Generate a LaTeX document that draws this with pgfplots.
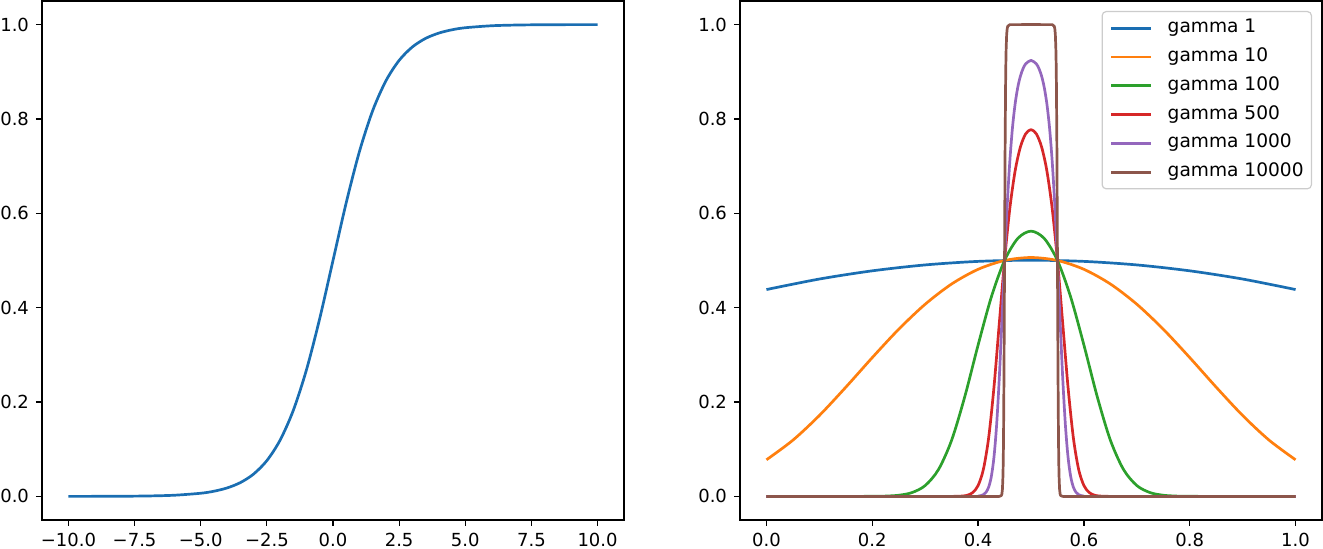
\documentclass[border=0pt]{standalone}
\usepackage{fontspec}
\setmainfont{DejaVu Sans}
\usepackage{pgfplots}
\pgfplotsset{compat=1.18}
\definecolor{c0}{HTML}{1A6EB2}
\definecolor{c1}{HTML}{FF7F0E}
\definecolor{c2}{HTML}{2CA02C}
\definecolor{c3}{HTML}{D62728}
\definecolor{c4}{HTML}{9467BD}
\definecolor{c5}{HTML}{8C564B}
\pgfplotsset{
  base/.style={
    scale only axis, width=291pt, height=259.5pt, anchor=south west,
    axis line style={line width=0.7pt, black},
    tick align=outside, major tick length=3pt,
    tick style={line width=0.6pt, black},
    xtick pos=bottom, ytick pos=left,
    /pgf/number format/assume math mode=true,
    ticklabel style={font=\fontsize{9}{11}\selectfont},
    ymin=-0.05, ymax=1.05,
    ytick={0,0.2,0.4,0.6,0.8,1.0},
    yticklabels={0.0,0.2,0.4,0.6,0.8,1.0},
    every axis plot/.append style={line width=1.35pt, line join=round},
  }
}
\begin{document}
\begin{tikzpicture}
\begin{axis}[base, at={(21pt,14.5pt)},
  xmin=-11, xmax=11,
  xtick={-10,-7.5,-5,-2.5,0,2.5,5,7.5,10},
  xticklabels={−10.0,−7.5,−5.0,−2.5,0.0,2.5,5.0,7.5,10.0}]
\addplot[c0, smooth] coordinates {
(-10,0.0000454) (-9,0.000123) (-8,0.000335) (-7,0.000911) (-6,0.002473)
(-5,0.006693) (-4.5,0.01099) (-4,0.01799) (-3.5,0.02931) (-3,0.04743)
(-2.5,0.07586) (-2,0.1192) (-1.5,0.1824) (-1,0.2689) (-0.5,0.3775)
(0,0.5) (0.5,0.6225) (1,0.7311) (1.5,0.8176) (2,0.8808) (2.5,0.9241)
(3,0.9526) (3.5,0.9707) (4,0.9820) (4.5,0.9890) (5,0.9933) (6,0.99753)
(7,0.99909) (8,0.99966) (9,0.99988) (10,0.99995)};
\end{axis}
\begin{axis}[base, at={(370pt,14.5pt)},
  xmin=-0.05, xmax=1.05,
  xtick={0,0.2,0.4,0.6,0.8,1.0},
  xticklabels={0.0,0.2,0.4,0.6,0.8,1.0},
  legend cell align=left,
  legend image code/.code={\draw[#1] (0pt,0pt) -- (20pt,0pt); \path (27.5pt,0pt);},
  legend style={at={(rel axis cs:1,1)}, anchor=north east, xshift=-5pt, yshift=-5pt,
    draw=black!20, line width=0.6pt, rounded corners=2pt, fill=white, fill opacity=0.8, text opacity=1,
    font=\fontsize{9.3}{11}\selectfont, row sep=5.4pt, inner xsep=3.9pt, inner ysep=3.8pt,
    nodes={inner sep=0pt, text height=6.8pt, text depth=2.2pt}}]
\addplot[c0, smooth] coordinates {
(0,0.4384) (0.1,0.4607) (0.2,0.4781) (0.3,0.4906) (0.4,0.4981) (0.5,0.5006)
(0.6,0.4981) (0.7,0.4906) (0.8,0.4781) (0.9,0.4607) (1,0.4384)};
\addlegendentry{gamma 1}
\addplot[c1, smooth] coordinates {
(0,0.0776) (0.05,0.1192) (0.1,0.1715) (0.15,0.2315) (0.2,0.2942) (0.25,0.3543)
(0.3,0.4073) (0.35,0.4502) (0.4,0.4813) (0.45,0.5) (0.5,0.5063)
(0.55,0.5) (0.6,0.4813) (0.65,0.4502) (0.7,0.4073) (0.75,0.3543) (0.8,0.2942)
(0.85,0.2315) (0.9,0.1715) (0.95,0.1192) (1,0.0776)};
\addlegendentry{gamma 10}
\addplot[c2, smooth] coordinates {
(0,0) (0.1,0.0000001) (0.2,0.00016) (0.225,0.00067) (0.25,0.00247) (0.275,0.00806)
(0.3,0.0230) (0.325,0.0567) (0.35,0.1192) (0.375,0.2121) (0.4,0.3208) (0.425,0.4225)
(0.45,0.5) (0.475,0.5467) (0.5,0.5622) (0.525,0.5467) (0.55,0.5) (0.575,0.4225)
(0.6,0.3208) (0.625,0.2121) (0.65,0.1192) (0.675,0.0567) (0.7,0.0230) (0.725,0.00806)
(0.75,0.00247) (0.775,0.00067) (0.8,0.00016) (0.9,0.0000001) (1,0)};
\addlegendentry{gamma 100}
\addplot[c3, smooth] coordinates {
(0,0) (0.3,0) (0.35,0.00005) (0.37,0.00075) (0.38,0.0026) (0.39,0.0082) (0.40,0.0230)
(0.41,0.0573) (0.42,0.1246) (0.43,0.2315) (0.44,0.3659) (0.45,0.5) (0.46,0.6106)
(0.47,0.6900) (0.48,0.7408) (0.49,0.7685) (0.5,0.7773) (0.51,0.7685) (0.52,0.7408)
(0.53,0.6900) (0.54,0.6106) (0.55,0.5) (0.56,0.3659) (0.57,0.2315) (0.58,0.1246)
(0.59,0.0573) (0.60,0.0230) (0.61,0.0082) (0.62,0.0026) (0.63,0.00075) (0.65,0.00005)
(0.7,0) (1,0)};
\addlegendentry{gamma 500}
\addplot[c4, smooth] coordinates {
(0,0) (0.38,0) (0.40,0.00055) (0.41,0.0037) (0.415,0.0088) (0.42,0.0198) (0.425,0.0421)
(0.43,0.0832) (0.435,0.1512) (0.44,0.2497) (0.445,0.3717) (0.45,0.5) (0.455,0.6166)
(0.46,0.7109) (0.465,0.7816) (0.47,0.8320) (0.475,0.8670) (0.48,0.8909) (0.485,0.9068)
(0.49,0.9168) (0.5,0.9241) (0.51,0.9168) (0.515,0.9068) (0.52,0.8909) (0.525,0.8670)
(0.53,0.8320) (0.535,0.7816) (0.54,0.7109) (0.545,0.6166) (0.55,0.5) (0.555,0.3717)
(0.56,0.2497) (0.565,0.1512) (0.57,0.0832) (0.575,0.0421) (0.58,0.0198) (0.585,0.0088)
(0.59,0.0037) (0.60,0.00055) (0.62,0) (1,0)};
\addlegendentry{gamma 1000}
\addplot[c5] coordinates {
(0,0) (0.44,0) (0.444,0.0017) (0.445,0.0052) (0.446,0.0154) (0.447,0.0435) (0.4475,0.0716)
(0.448,0.1151) (0.449,0.2670) (0.45,0.5) (0.451,0.7291) (0.452,0.8765) (0.4525,0.9196)
(0.453,0.9483) (0.454,0.9790) (0.455,0.9914) (0.456,0.9965) (0.46,0.9999) (0.5,1)
(0.54,0.9999) (0.544,0.9965) (0.545,0.9914) (0.546,0.9790) (0.547,0.9483) (0.5475,0.9196)
(0.548,0.8765) (0.549,0.7291) (0.55,0.5) (0.551,0.2670) (0.552,0.1151) (0.5525,0.0716)
(0.553,0.0435) (0.554,0.0154) (0.555,0.0052) (0.556,0.0017) (0.56,0) (1,0)};
\addlegendentry{gamma 10000}
\end{axis}
\pgfresetboundingbox
\path[use as bounding box] (0,0) rectangle (661.5pt,274.5pt);
\end{tikzpicture}
\end{document}
